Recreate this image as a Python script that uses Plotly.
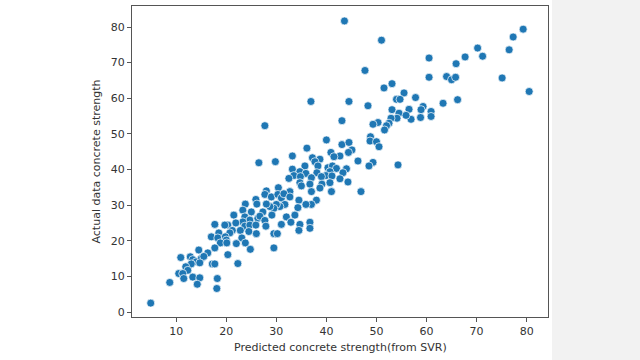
import plotly.graph_objects as go

predicted = [43.6, 51.0, 79.3, 77.3, 76.5, 70.2, 71.2, 67.7, 65.9, 60.5, 75.1, 80.5, 47.7, 60.5, 64.0, 65.0, 65.8, 66.2, 63.3, 51.5,
             53.1, 55.5, 57.8, 54.0, 54.7, 36.9, 44.5, 48.3, 53.1, 54.5, 56.5, 59.3, 58.9, 60.9, 60.9, 58.8, 56.9, 55.9, 54.1, 52.9,
             52.5, 52.0, 51.6, 50.3, 49.3, 43.1, 27.7, 48.8, 48.7, 50.0, 50.5, 40.0, 43.1, 44.5, 45.1, 44.4, 42.7, 40.9, 41.5, 36.1,
             33.2, 37.2, 38.7, 37.7, 26.5, 29.8, 46.3, 49.3, 48.5, 54.3, 40.3, 41.2, 42.0, 40.7, 38.3, 44.0, 43.3, 35.7, 33.2, 34.7,
             35.9, 38.1, 39.9, 41.1, 42.7, 39.0, 33.5, 34.8, 37.0, 32.5, 34.7, 36.7, 39.1, 40.7, 44.3, 41.0, 38.7, 37.0, 46.9, 35.0,
             32.7, 38.0, 37.0, 35.9, 34.5, 34.3, 30.4, 28.0, 27.7, 29.0, 30.3, 31.0, 31.5, 32.7, 31.7, 30.7, 30.0, 29.5, 28.7, 28.0,
             25.9, 26.1, 23.8, 23.3, 25.0, 27.3, 29.1, 32.0, 33.7, 21.5, 23.7, 24.7, 26.3, 26.7, 27.7, 23.3, 21.9, 20.3, 17.7, 19.7,
             23.7, 24.7, 25.9, 27.9, 31.0, 32.9, 34.7, 36.7, 36.7, 34.5, 24.5, 26.0, 22.8, 21.2, 20.7, 18.5, 17.0, 18.3, 19.8, 20.0,
             18.8, 20.1, 23.1, 22.0, 23.8, 24.8, 17.7, 29.5, 30.2, 29.5, 20.3, 16.3, 14.5, 12.8, 10.9, 13.3, 14.0, 15.0, 15.5, 14.7,
             13.0, 11.9, 12.3, 10.5, 11.3, 11.5, 13.3, 14.7, 14.2, 8.7, 17.2, 17.7, 22.3, 18.2, 18.1, 4.9]

actual = [81.7, 76.3, 79.4, 77.2, 73.6, 74.1, 71.8, 71.6, 69.7, 71.3, 65.7, 61.9, 67.8, 65.9, 66.1, 65.2, 65.9, 59.6, 58.6, 62.9,
          64.1, 61.5, 60.2, 59.7, 59.7, 59.1, 59.1, 57.9, 56.8, 55.8, 56.9, 57.7, 56.8, 56.3, 54.9, 54.6, 54.1, 55.2, 54.4, 54.4,
          53.0, 52.3, 51.1, 53.2, 52.7, 53.7, 52.3, 49.2, 48.0, 47.8, 46.4, 48.3, 47.0, 47.6, 45.5, 44.8, 43.8, 44.8, 43.6, 46.0,
          43.8, 43.3, 42.9, 42.2, 41.9, 42.2, 42.4, 42.0, 41.0, 41.3, 40.5, 41.0, 40.3, 39.4, 41.0, 40.2, 39.1, 41.0, 40.1, 39.4,
          38.9, 39.1, 38.3, 38.2, 37.4, 38.0, 38.3, 38.0, 37.7, 37.5, 36.3, 35.9, 35.9, 36.3, 36.5, 33.8, 34.8, 33.8, 33.8, 35.4,
          33.8, 31.4, 30.2, 30.2, 31.4, 29.3, 34.9, 34.0, 33.0, 32.3, 33.0, 32.0, 33.2, 32.3, 30.2, 29.6, 30.2, 29.1, 29.6, 30.3,
          31.6, 30.3, 30.3, 28.6, 28.1, 28.1, 27.2, 26.7, 27.2, 27.2, 26.7, 25.8, 26.3, 26.9, 25.7, 25.3, 25.0, 24.4, 24.6, 24.4,
          24.1, 24.4, 24.4, 24.1, 24.6, 25.2, 24.6, 25.2, 23.5, 22.9, 22.6, 22.0, 22.9, 22.9, 22.2, 22.2, 21.1, 20.8, 21.1, 20.2,
          19.4, 19.4, 20.8, 19.2, 19.4, 17.6, 18.0, 22.0, 22.0, 18.0, 16.1, 16.6, 17.4, 15.5, 15.3, 14.7, 14.1, 15.0, 15.6, 13.8,
          13.5, 12.7, 11.7, 10.8, 10.8, 9.4, 9.8, 9.6, 7.8, 8.3, 13.5, 13.5, 13.6, 9.4, 6.6, 2.5]

x_ticks = [10, 20, 30, 40, 50, 60, 70, 80]
y_ticks = [0, 10, 20, 30, 40, 50, 60, 70, 80]

fig = go.Figure()
fig.add_trace(go.Scatter(
    x=predicted, y=actual, mode="markers",
    marker=dict(size=8, color="#1f77b4", line=dict(color="white", width=0.7)),
    showlegend=False,
))

axis_common = dict(
    showgrid=False, zeroline=False, showline=True, mirror=True,
    linecolor="#555555", linewidth=1.2,
    ticks="outside", ticklen=4, tickcolor="#555555", tickwidth=1,
    tickfont=dict(family="DejaVu Sans", size=11, color="#333333"),
    title_font=dict(family="DejaVu Sans", size=11, color="#333333"),
)

fig.update_layout(
    width=640, height=360,
    margin=dict(l=132, r=92, t=6, b=43),
    paper_bgcolor="white", plot_bgcolor="white",
    xaxis=dict(range=[1.16, 84.26], tickvals=x_ticks, **axis_common),
    yaxis=dict(range=[-1.4, 85.9], tickvals=y_ticks,
               title=dict(text="Actual data concrete strength", standoff=7), **axis_common),
    annotations=[
        dict(text="Predicted concrete strength(from SVR)", xref="paper", yref="paper",
             x=0.5, y=0, xanchor="center", yanchor="middle", yshift=-30, showarrow=False,
             font=dict(family="DejaVu Sans", size=11, color="#333333")),
    ],
    shapes=[
        dict(type="rect", xref="paper", yref="paper", x0=1.0096, x1=1.5, y0=-0.5, y1=1.5,
             fillcolor="#f2f2f2", line=dict(width=0), layer="below"),
    ],
)

fig.write_html("out.html", config={"displayModeBar": False},
               post_script="document.body.style.margin='0';")
